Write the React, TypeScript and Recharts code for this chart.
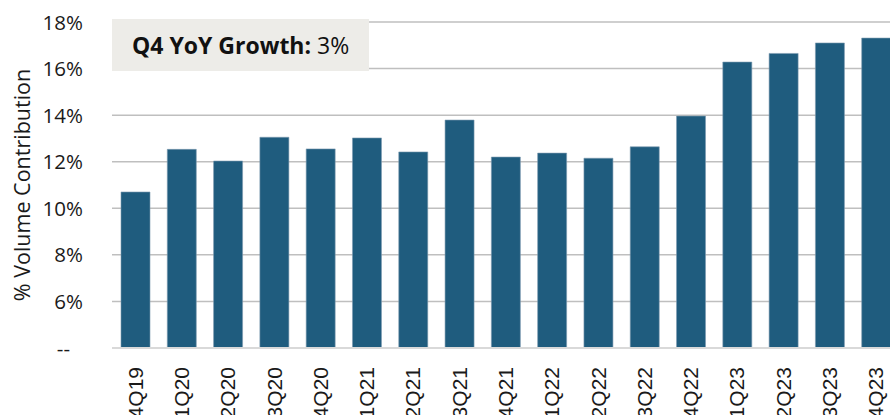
import React from 'react';
import { BarChart, Bar, XAxis, YAxis, CartesianGrid } from 'recharts';

const quarters = ['4Q19','1Q20','2Q20','3Q20','4Q20','1Q21','2Q21','3Q21','4Q21','1Q22','2Q22','3Q22','4Q22','1Q23','2Q23','3Q23','4Q23'];
const volumeContribution = [10.7,12.53,12.03,13.05,12.55,13.02,12.42,13.79,12.2,12.37,12.15,12.64,13.96,16.28,16.65,17.1,17.31];
const yTicks = [4,6,8,10,12,14,16,18];
const annotationLabel = 'Q4 YoY Growth:';
const annotationValue = '3%';
const yAxisTitle = '% Volume Contribution';

const data = quarters.map((q, i) => ({ q, v: volumeContribution[i] }));

const YTick = (props: any) => {
  const { x, y, payload } = props;
  const isBase = payload.value === yTicks[0];
  return (
    <text x={isBase ? x - 13 : x} y={y} dy={7.5} textAnchor="end" fill="#1a1a1a"
      style={{ fontFamily: '"Open Sans", sans-serif', fontSize: 20.5 }}>
      {isBase ? '--' : `${payload.value}%`}
    </text>
  );
};

const XTick = (props: any) => {
  const { x, y, payload } = props;
  return (
    <text x={x} y={y} transform={`rotate(-90, ${x}, ${y})`} dy={7.5} textAnchor="end" fill="#1a1a1a"
      style={{ fontFamily: '"Liberation Sans", Arial, sans-serif', fontSize: 21 }}>
      {payload.value}
    </text>
  );
};

const YLabel = (props: any) => {
  const { viewBox } = props;
  const cy = viewBox.y + viewBox.height / 2;
  const cx = 30;
  return (
    <text x={cx} y={cy} transform={`rotate(-90, ${cx}, ${cy})`} textAnchor="middle" fill="#1a1a1a"
      style={{ fontFamily: '"Open Sans", sans-serif', fontSize: 21.5 }}>
      {yAxisTitle}
    </text>
  );
};

export default function App() {
  return (
    <div style={{ position: 'fixed', left: 0, top: 0, width: 890, height: 415, overflow: 'hidden', background: '#fff' }}>
      <BarChart width={900} height={415} data={data} margin={{ top: 22, right: 1, left: 0, bottom: 0 }} barSize={29}>
        <CartesianGrid vertical={false} stroke="#BFBFBF" strokeWidth={1.5} />
        <XAxis dataKey="q" interval={0} height={67} tickLine={false} tickSize={0} tickMargin={19}
          axisLine={{ stroke: '#D9D9D9', strokeWidth: 2 }} tick={<XTick />} />
        <YAxis domain={[4, 18]} ticks={yTicks} width={112} axisLine={false} tickLine={false} tickSize={0} tickMargin={29}
          tick={<YTick />} label={<YLabel />} />
        <Bar dataKey="v" fill="#1F5C7E" stroke="#7D9BB0" strokeWidth={0.6} isAnimationActive={false} />
      </BarChart>
      <div style={{ position: 'absolute', left: 112, top: 19, width: 257, height: 52, background: '#EDECE8',
        display: 'flex', alignItems: 'center', boxSizing: 'border-box', paddingLeft: 20,
        fontFamily: '"Open Sans", sans-serif', fontSize: 23, color: '#111' }}>
        <span style={{ fontWeight: 700 }}>{annotationLabel}</span>
        <span style={{ whiteSpace: 'pre' }}> {annotationValue}</span>
      </div>
    </div>
  );
}
